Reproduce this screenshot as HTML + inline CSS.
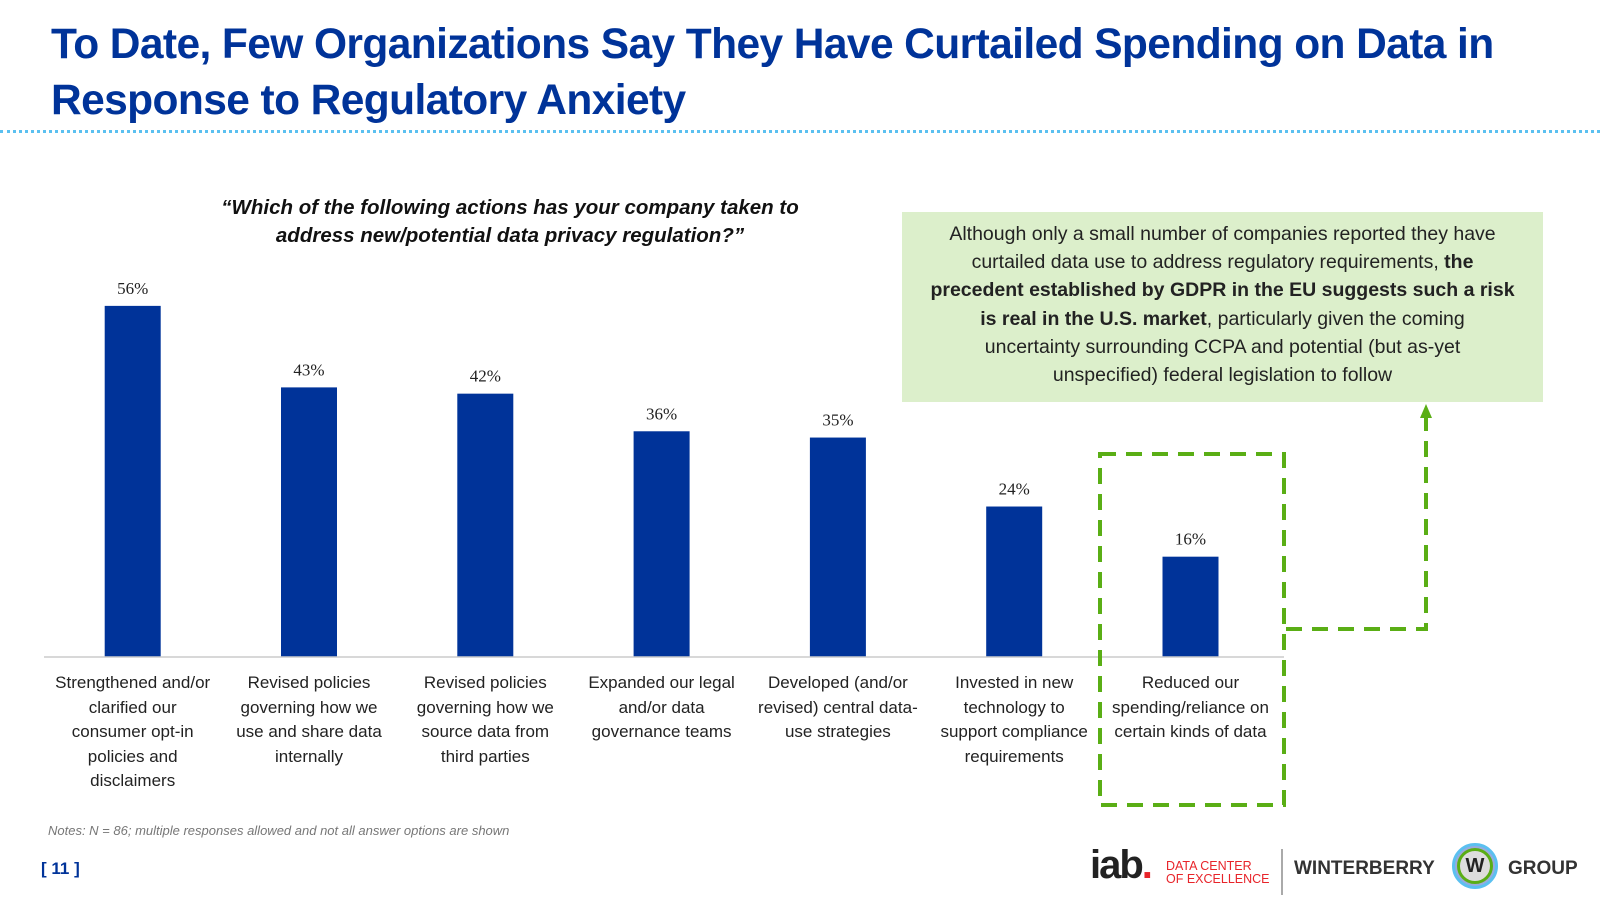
<!DOCTYPE html>
<html><head><meta charset="utf-8"><style>
body{margin:0;width:1600px;height:900px;background:#fff;font-family:"Liberation Sans",sans-serif;position:relative;overflow:hidden}
.abs{position:absolute}
h1{position:absolute;left:51px;top:17px;margin:0;font-size:42.5px;line-height:56px;color:#003399;font-weight:bold;letter-spacing:-0.6px;white-space:nowrap}
.cat{position:absolute;width:184px;text-align:center;font-size:17px;line-height:24.5px;color:#222;top:671px}
</style></head><body>
<h1>To Date, Few Organizations Say They Have Curtailed Spending on Data in<br>Response to Regulatory Anxiety</h1>
<div class="abs" style="left:0;top:130px;width:1600px;border-top:3px dotted #5bc0f0"></div>
<div class="abs" style="left:170px;top:194px;width:680px;text-align:center;font-size:20.5px;line-height:28px;font-weight:bold;font-style:italic;color:#111">“Which of the following actions has your company taken to<br>address new/potential data privacy regulation?”</div>
<div class="abs" style="left:902px;top:212px;width:641px;height:190px;background:#dcefcb;text-align:center;font-size:19.5px;line-height:28.2px;color:#222;padding-top:8px;box-sizing:border-box;white-space:nowrap">Although only a small number of companies reported they have<br>curtailed data use to address regulatory requirements, <b>the</b><br><b>precedent established by GDPR in the EU suggests such a risk</b><br><b>is real in the U.S. market</b>, particularly given the coming<br>uncertainty surrounding CCPA and potential (but as-yet<br>unspecified) federal legislation to follow</div>
<svg class="abs" style="left:0;top:0" width="1600" height="900">
<g id="bars"></g>
<line x1="44" y1="657" x2="1284" y2="657" stroke="#ccc" stroke-width="1.5"/>
<rect x="1100" y="454" width="184" height="351" fill="none" stroke="#5aae15" stroke-width="4" stroke-dasharray="16,10"/>
<polyline points="1286,629 1426,629 1426,416" fill="none" stroke="#5aae15" stroke-width="4" stroke-dasharray="16,10"/>
<polygon points="1420,418 1432,418 1426,404" fill="#5aae15"/>
</svg>
<div id="cats"></div>
<div class="abs" style="left:48px;top:823px;font-size:13px;font-style:italic;color:#777">Notes: N = 86; multiple responses allowed and not all answer options are shown</div>
<div class="abs" style="left:41px;top:859px;font-size:17px;font-weight:bold;color:#003399">[ 11 ]</div>
<div class="abs" style="left:1090px;top:843px;font-size:40px;font-weight:bold;color:#222;letter-spacing:-2px">iab<span style="color:#e8242a">.</span></div>
<div class="abs" style="left:1166px;top:860px;font-size:12.5px;line-height:13px;color:#e8242a">DATA CENTER<br>OF EXCELLENCE</div>
<div class="abs" style="left:1281px;top:849px;width:2px;height:46px;background:#aaa"></div>
<div class="abs" style="left:1294px;top:858px;font-size:19px;font-weight:bold;color:#333">WINTERBERRY</div>
<div class="abs" style="left:1452px;top:843px;width:46px;height:46px;border-radius:50%;background:#9ad;box-sizing:border-box;border:3px solid #5bc0f0;display:flex;align-items:center;justify-content:center"><div style="width:36px;height:36px;border-radius:50%;background:#ddd;border:3px solid #5aae15;box-sizing:border-box;text-align:center;font-weight:bold;font-size:20px;line-height:30px;color:#222">W</div></div>
<div class="abs" style="left:1508px;top:858px;font-size:19px;font-weight:bold;color:#333">GROUP</div>
<script>
const categories=["Strengthened and/or<br>clarified our<br>consumer opt-in<br>policies and<br>disclaimers","Revised policies<br>governing how we<br>use and share data<br>internally","Revised policies<br>governing how we<br>source data from<br>third parties","Expanded our legal<br>and/or data<br>governance teams","Developed (and/or<br>revised) central data-<br>use strategies","Invested in new<br>technology to<br>support compliance<br>requirements","Reduced our<br>spending/reliance on<br>certain kinds of data"];
const values=[56,43,42,36,35,24,16];
const valueLabels=["56%","43%","42%","36%","35%","24%","16%"];
const base=657, pxPer=6.27, x0=132.7, step=176.3, bw=56;
const yScale=v=>base-v*pxPer, xScale=i=>x0+i*step;
const ns="http://www.w3.org/2000/svg", g=document.getElementById('bars'), cats=document.getElementById('cats');
values.forEach((v,i)=>{
  const r=document.createElementNS(ns,'rect');
  
  
  r.setAttribute('x',xScale(i)-bw/2);r.setAttribute('y',yScale(v));r.setAttribute('width',bw);r.setAttribute('height',base-yScale(v));r.setAttribute('fill','#003399');
  g.appendChild(r);
  const t=document.createElementNS(ns,'text');
  
  
  t.setAttribute('x',xScale(i));t.setAttribute('y',yScale(v)-12);t.setAttribute('text-anchor','middle');t.setAttribute('font-size','17');t.setAttribute('fill','#222');t.setAttribute('font-family','Liberation Serif, serif');
  t.textContent=valueLabels[i];g.appendChild(t);
  const d=document.createElement('div');
  
  
  d.className='cat';d.style.left=(xScale(i)-92)+'px';d.innerHTML=categories[i];cats.appendChild(d);
});
</script>
</body></html>
